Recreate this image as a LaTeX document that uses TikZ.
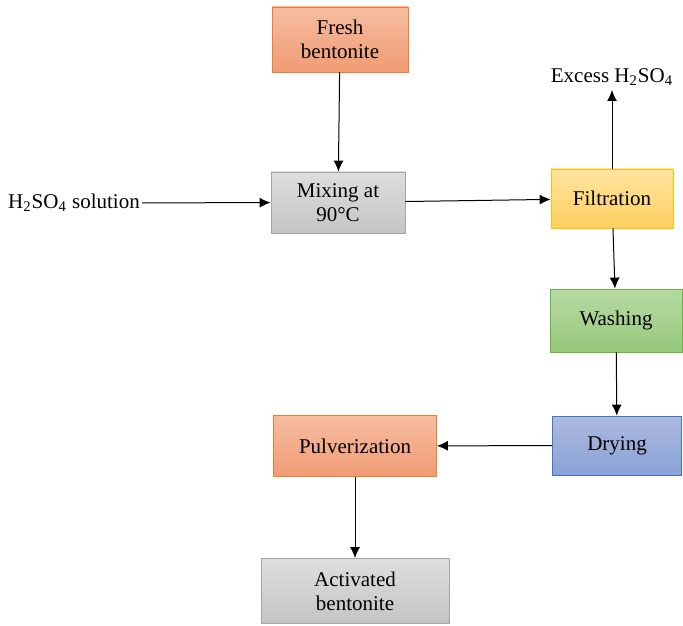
\documentclass[tikz,border=0pt]{standalone}
\usepackage{fontspec}
\setmainfont{Liberation Serif}
\usetikzlibrary{arrows.meta}

\definecolor{orangetop}{RGB}{246,188,160}
\definecolor{orangebot}{RGB}{240,156,116}
\definecolor{orangeline}{RGB}{237,125,49}
\definecolor{graytop}{RGB}{222,222,222}
\definecolor{graybot}{RGB}{196,196,196}
\definecolor{grayline}{RGB}{165,165,165}
\definecolor{yellowtop}{RGB}{255,228,160}
\definecolor{yellowbot}{RGB}{255,208,96}
\definecolor{yellowline}{RGB}{255,192,0}
\definecolor{greentop}{RGB}{182,218,162}
\definecolor{greenbot}{RGB}{150,200,124}
\definecolor{greenline}{RGB}{112,173,71}
\definecolor{bluetop}{RGB}{172,186,222}
\definecolor{bluebot}{RGB}{138,162,214}
\definecolor{blueline}{RGB}{68,114,196}

\tikzset{
  stage/.style={draw, align=center, font=\fontsize{10.5}{12}\selectfont, inner sep=2pt},
  orangestage/.style={stage, draw=orangeline, top color=orangetop, bottom color=orangebot},
  graystage/.style={stage, draw=grayline, top color=graytop, bottom color=graybot},
  yellowstage/.style={stage, draw=yellowline, top color=yellowtop, bottom color=yellowbot},
  greenstage/.style={stage, draw=greenline, top color=greentop, bottom color=greenbot},
  bluestage/.style={stage, draw=blueline, top color=bluetop, bottom color=bluebot},
  flow/.style={-{Latex[length=5.5pt,width=5pt]}, line width=0.5pt}
}

\begin{document}
\begin{tikzpicture}[x=0.5pt,y=-0.5pt]
    \useasboundingbox (0,0) rectangle (683,625);

    \node[orangestage, minimum width=68pt, minimum height=32.5pt] (FRESH) at (340,39.5) {Fresh\\bentonite};
    \node[graystage, minimum width=67pt, minimum height=30.5pt] (MIX) at (338,202.5) {Mixing at\\90°C};
    \node[yellowstage, minimum width=61pt, minimum height=29.5pt] (FIL) at (612,198.5) {Filtration};
    \node[greenstage, minimum width=66pt, minimum height=31.5pt] (WASH) at (616,320.5) {Washing};
    \node[bluestage, minimum width=64.5pt, minimum height=29.5pt] (DRY) at (617,445.5) {Drying};
    \node[orangestage, minimum width=81.5pt, minimum height=30.5pt] (PUL) at (355,446) {Pulverization};
    \node[graystage, minimum width=94pt, minimum height=32.5pt] (ACT) at (355,591) {Activated\\bentonite};

    \node[font=\fontsize{10.5}{12}\selectfont, inner sep=1pt] (SOL) at (74,203) {H\textsubscript{2}SO\textsubscript{4} solution};
    \node[font=\fontsize{10.5}{12}\selectfont, inner sep=2pt] (EXC) at (612,77) {Excess H\textsubscript{2}SO\textsubscript{4}};

    \draw [flow] (FRESH) -- (MIX);
    \draw [flow] (SOL) -- (MIX);
    \draw [flow] (MIX) -- (FIL);
    \draw [flow] (FIL) -- (EXC);
    \draw [flow] (FIL) -- (WASH);
    \draw [flow] (WASH) -- (DRY);
    \draw [flow] (DRY) -- (PUL);
    \draw [flow] (PUL) -- (ACT);
\end{tikzpicture}
\end{document}
